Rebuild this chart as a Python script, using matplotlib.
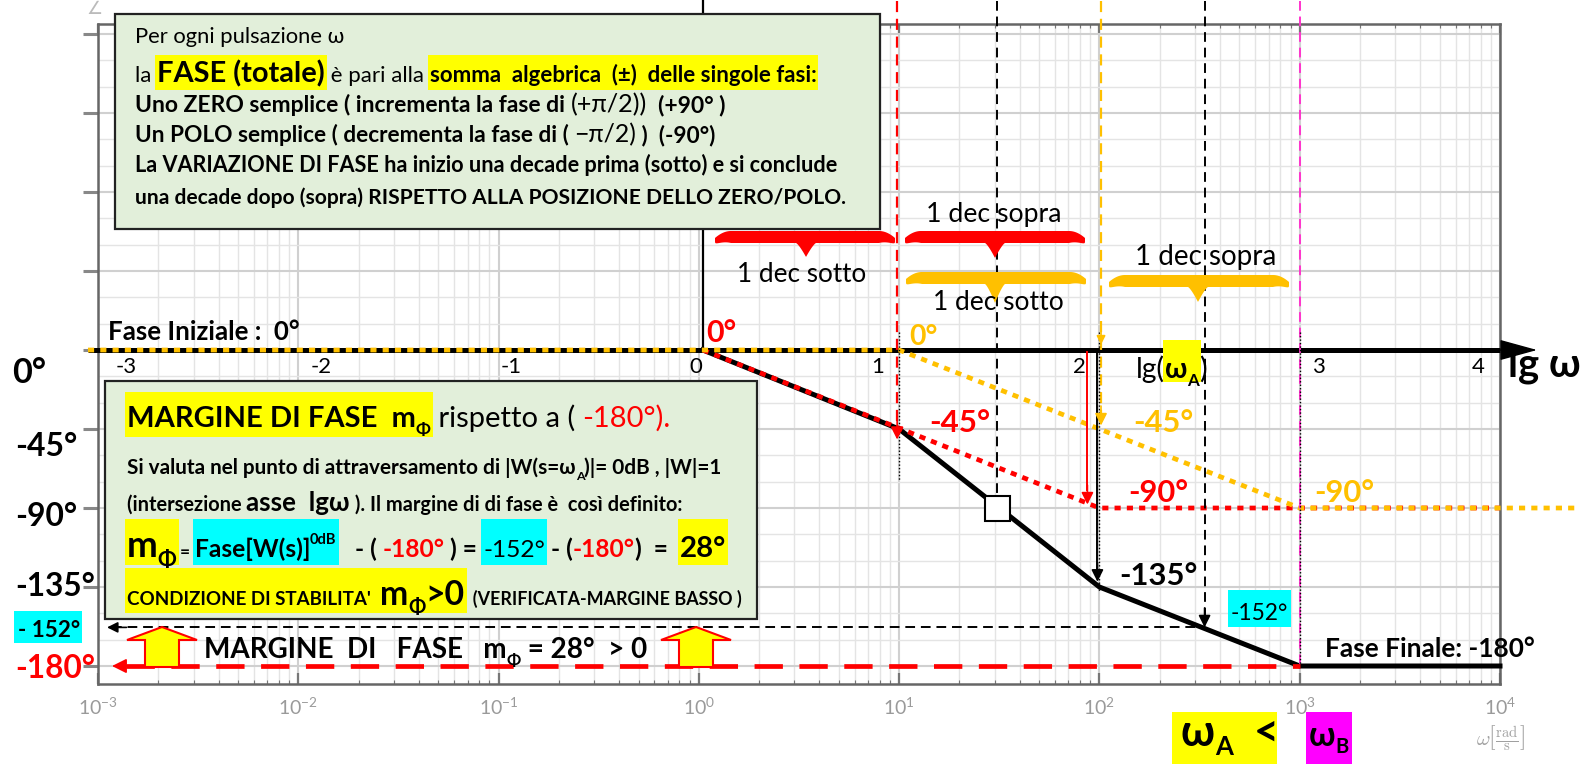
import numpy as np
import matplotlib
matplotlib.use('Agg')
import matplotlib.pyplot as plt
from matplotlib.patches import Rectangle, Polygon

plt.rcParams['font.family'] = ['Lato', 'DejaVu Sans']
plt.rcParams['mathtext.fontset'] = 'cm'

W, H = 1581, 764

# ---- data: lg = log10(omega), phase in degrees ----
decades = [-3, -2, -1, 0, 1, 2, 3, 4]
total_lg = [0.02, 1, 2, 3, 4]          # total phase (black)
total_ph = [0, -45, -135, -180, -180]
pole1_lg = [0.02, 2, 4]                # first pole (red)
pole1_ph = [0, -90, -90]
pole2_lg = [-3.05, 1, 3, 4.4]          # second pole (orange)
pole2_ph = [0, 0, -90, -90]
axis_lg = [-3.05, 4.0]
lg_A, ph_A = 2.525, -158               # 0 dB crossing as drawn
mid_lg, mid_ph = 1.49, -90             # white square
Y_TOP = 199

YEL, CYA, RED, ORA, MAG = '#ffff00', '#00ffff', '#ff0000', '#ffc000', '#ff33cc'
L = lambda v: np.power(10.0, np.asarray(v, dtype=float))

fig = plt.figure(figsize=(W / 100, H / 100), dpi=100)
ax = fig.add_axes([98 / W, 1 - 684 / H, 1402 / W, 660 / H])
ax.set_xscale('log')
ax.set_xlim(1e-3, 1e4)
ax.set_ylim(-190.25, 185.7)
ax.set_yticks(np.arange(-180, 181, 45))
ax.set_yticks(np.arange(-180, 181, 15), minor=True)
ax.set_yticklabels([])
ax.set_xticks(L(decades))
ax.grid(True, which='major', color='#d0d0d0', lw=1.5)
ax.grid(True, which='minor', color='#e4e4e4', lw=1.0)
ax.tick_params(axis='x', which='both', direction='in', top=True, color='#777',
               labelcolor='#9a9a9a', labelsize=14, pad=9)
ax.tick_params(axis='x', which='major', length=8, width=1.6)
ax.tick_params(axis='x', which='minor', length=3, width=0.8)
ax.tick_params(axis='y', which='major', direction='out', length=11, width=2.2, color='#888')
ax.tick_params(axis='y', which='minor', length=0)
for s in ax.spines.values():
    s.set_color('#666')
    s.set_linewidth(1.8)


def head(lg, ph, color, dx=0, dy=14, ms=16):
    ax.annotate('', xy=(L(lg), ph), xytext=(dx, dy), textcoords='offset points',
                arrowprops=dict(arrowstyle='-|>', color=color, lw=1.2, mutation_scale=ms,
                                shrinkA=0, shrinkB=0), annotation_clip=False, zorder=8)


# lg omega axis
ax.plot(L(axis_lg), [0, 0], color='k', lw=3.6, solid_capstyle='butt', clip_on=False, zorder=3)
ax.annotate('', xy=(L(4.185), 0), xytext=(L(4.0), 0),
            arrowprops=dict(arrowstyle='-|>,head_length=0.8,head_width=0.22', color='k', lw=1,
                            mutation_scale=30, shrinkA=0, shrinkB=0),
            annotation_clip=False, zorder=4)

# curves
ax.plot(L(total_lg), total_ph, color='k', lw=3.6, clip_on=False, zorder=4)
ax.plot(L(pole1_lg), pole1_ph, color=RED, lw=3.4, ls=(0, (1.3, 1.3)), clip_on=False, zorder=5)
ax.plot(L(pole2_lg), pole2_ph, color=ORA, lw=3.4, ls=(0, (1.3, 1.3)), clip_on=False, zorder=5)
ax.plot(L(mid_lg), mid_ph, marker='s', ms=18, mfc='white', mec='k', mew=1.5, zorder=7)

# guide lines
dash = (0, (5, 3))
ax.plot(L([0.02, 0.02]), [0, Y_TOP], color='k', lw=1.6, clip_on=False, zorder=3)
ax.plot(L([0.99, 0.99]), [Y_TOP, -45], color=RED, lw=1.6, ls=dash, clip_on=False, zorder=6)
head(0.99, -51, RED, ms=19)
ax.plot(L([1.49, 1.49]), [Y_TOP, -84], color='k', lw=1.4, ls=dash, clip_on=False, zorder=6)
ax.plot(L([2.008, 2.008]), [Y_TOP, -38], color=ORA, lw=1.6, ls=dash, clip_on=False, zorder=6)
head(2.008, 3, ORA, ms=13)
head(2.008, -43, ORA, ms=18)
ax.plot(L([lg_A, lg_A]), [Y_TOP, ph_A + 6], color='k', lw=1.4, ls=dash, clip_on=False, zorder=6)
head(lg_A, ph_A, 'k', ms=18)
ax.plot(L([3.0, 3.0]), [Y_TOP, -180], color=MAG, lw=1.4, ls=dash, clip_on=False, zorder=6)
ax.plot(L([1.94, 1.94]), [-1, -80], color=RED, lw=1.4, zorder=6)
head(1.94, -88, RED, ms=18)
ax.plot(L([1.99, 1.99]), [-1, -125], color='k', lw=1.4, zorder=6)
head(1.99, -132, 'k', ms=18)
for lg, bottom in [(1.0, -74), (2.0, -137), (3.0, -180)]:
    ax.plot(L([lg, lg]), [10, bottom], color='k', lw=1.0, ls=(0, (1, 1.5)), zorder=6)
ax.plot(L([-2.93, lg_A]), [ph_A, ph_A], color='k', lw=1.4, ls=dash, zorder=6)
head(-2.955, ph_A, 'k', dx=14, dy=0)
ax.plot(L([-2.86, 3.0]), [-180, -180], color=RED, lw=3.4, ls=(0, (6, 3.5)), zorder=6)
head(-2.93, -180, RED, dx=14, dy=0, ms=22)

# ---- annotation layer in pixel coordinates ----
ov = fig.add_axes([0, 0, 1, 1], zorder=5)
ov.set_xlim(0, W)
ov.set_ylim(H, 0)
ov.axis('off')
rend = fig.canvas.get_renderer()


def adv(txt, fs, wt):
    a = ov.text(0, 0, '|' + txt + '|', fontsize=fs, fontweight=wt)
    b = ov.text(0, 0, '||', fontsize=fs, fontweight=wt)
    w = a.get_window_extent(rend).width - b.get_window_extent(rend).width
    a.remove()
    b.remove()
    return w


def line(x0, base, segs, size, width=None, hl=None, sub_drop=0.45):
    wts = ['bold' if o.get('b') else 'normal' for _, o in segs]

    def sizes(sc):
        return [size * o.get('k', 1) * sc * (0.6 if (o.get('sub') or o.get('sup')) else 1)
                for _, o in segs]
    sc = 1.0
    if width:
        sc = width / sum(adv(t, f, w) for (t, _), f, w in zip(segs, sizes(1.0), wts))
    x = x0
    runs = []
    for (t, o), f, w in zip(segs, sizes(sc), wts):
        dy = 0
        if o.get('sub'):
            dy = sub_drop * f * 100 / 72
        if o.get('sup'):
            dy = -0.9 * f * 100 / 72
        ov.text(x, base + dy, t, fontsize=f, fontweight=w, color=o.get('c', 'k'),
                va='baseline', ha='left', zorder=7)
        a = adv(t, f, w)
        if o.get('bg'):
            if runs and runs[-1][2] == o['bg'] and abs(runs[-1][1] - x) < 0.5:
                runs[-1][1] = x + a
            else:
                runs.append([x, x + a, o['bg']])
        x += a
    if hl:
        for xa, xb, c in runs:
            ov.add_patch(Rectangle((xa - 2, hl[0]), xb - xa + 4, hl[1] - hl[0],
                                   fc=c, ec='none', zorder=6))
    return x


B = {'b': True}
# top box
ov.add_patch(Rectangle((115, 14), 765, 215, fc='#e2efda', ec='#222', lw=1.6, zorder=5))
line(135, 43, [("Per ogni pulsazione ω", {})], 13, 209)
line(135, 82, [("la ", {}), ("FASE (totale)", {'b': 1, 'k': 1.3, 'bg': YEL}),
               (" è pari alla ", {}),
               ("somma  algebrica  (±)  delle singole fasi:", {'b': 1, 'bg': YEL})],
     13, 681, hl=(55, 90))
line(135, 112, [("Uno ZERO semplice ( incrementa la fase di ", B), ("(+π/2))", {'k': 1.1}),
                ("  (+90° )", B)], 13, 591)
line(135, 142, [("Un POLO semplice ( decrementa la fase di ( ", B), ("−π/2)", {'k': 1.1}),
                (" )  (-90°)", B)], 13, 581)
line(135, 172, [("La VARIAZIONE DI FASE ha inizio una decade prima (sotto) e si conclude", B)], 13, 702)
line(135, 204, [("una decade dopo (sopra) RISPETTO ALLA POSIZIONE DELLO ZERO/POLO.", B)], 13, 707)

# bottom box
ov.add_patch(Rectangle((105, 381), 652, 238, fc='#e2efda', ec='#222', lw=1.6, zorder=5))
line(127, 427, [("MARGINE DI FASE  m", {'b': 1, 'bg': YEL}), ("Φ", {'b': 1, 'sub': 1, 'bg': YEL}),
                (" rispetto a ( ", {}), ("-180°).", {'c': RED})], 20, 543, hl=(392, 437))
line(127, 474, [("Si valuta nel punto di attraversamento di |W(s=ω", B), ("A", {'b': 1, 'sub': 1}),
                (")|= 0dB , |W|=1", B)], 12, 594)
line(127, 511, [("(intersezione ", B), ("asse  lgω", {'b': 1, 'k': 1.3}),
                (" ). Il margine di di fase è  così definito:", B)], 12, 553)
line(127, 557, [("m", {'b': 1, 'k': 1.5, 'bg': YEL}), ("Φ", {'b': 1, 'k': 1.5, 'sub': 1, 'bg': YEL}),
                (" = ", {'b': 1, 'k': 0.7}), ("Fase[W(s)]", {'b': 1, 'bg': CYA}),
                ("0dB", {'b': 1, 'sup': 1, 'bg': CYA}), ("   - ( ", B), ("-180°", {'b': 1, 'c': RED}),
                (" ) = ", B), ("-152°", {'bg': CYA}), (" - (", B), ("-180°", {'b': 1, 'c': RED}),
                (")  =  ", B), ("28°", {'b': 1, 'k': 1.2, 'bg': YEL})], 17, 600, hl=(519, 565))
line(127, 605, [("CONDIZIONE DI STABILITA'  ", {'b': 1, 'bg': YEL}), ("m", {'b': 1, 'k': 1.8, 'bg': YEL}),
                ("Φ", {'b': 1, 'k': 1.8, 'sub': 1, 'bg': YEL}), (">0", {'b': 1, 'k': 1.8, 'bg': YEL}),
                ("  (VERIFICATA-MARGINE BASSO )", {'b': 1, 'k': 0.95})], 12, 615, hl=(568, 613))

# margin arrows + caption
for xc in (162, 696):
    pts = [(xc - 17, 667), (xc - 17, 640), (xc - 35, 640), (xc, 627), (xc + 35, 640),
           (xc + 17, 640), (xc + 17, 667)]
    ov.add_patch(Polygon(pts, closed=True, fc=YEL, ec=RED, lw=1.5, zorder=7))
line(204, 658, [("MARGINE  DI   FASE   m", B), ("Φ", {'b': 1, 'sub': 1}), (" = 28°  > 0", B)], 18, 445)

# left phase labels
line(12, 383, [("0°", B)], 24, 34)
line(15, 456, [("-45°", B)], 24, 62)
line(15, 526, [("-90°", B)], 24, 62)
line(15, 596, [("-135°", B)], 24, 80)
ov.add_patch(Rectangle((14, 611), 68, 32, fc=CYA, ec='none', zorder=6))
line(18, 637, [("- 152°", B)], 18, 62)
line(15, 678, [("-180°", {'b': 1, 'c': RED})], 24, 80)

# labels along the curves
line(108, 340, [("Fase Iniziale :  0°", B)], 18, 192)
line(706, 342, [("0°", {'b': 1, 'c': RED})], 22, 30)
line(909, 345, [("0°", {'b': 1, 'c': ORA})], 22, 28)
line(929, 432, [("-45°", {'b': 1, 'c': RED})], 24, 61)
line(1133, 432, [("-45°", {'b': 1, 'c': ORA})], 24, 60)
line(1128, 502, [("-90°", {'b': 1, 'c': RED})], 24, 60)
line(1314, 502, [("-90°", {'b': 1, 'c': ORA})], 24, 60)
line(1119, 585, [("-135°", B)], 24, 78)
ov.add_patch(Rectangle((1228, 590), 63, 37, fc=CYA, ec='none', zorder=6))
line(1231, 620, [("-152°", {})], 20, 57)
line(1325, 657, [("Fase Finale: -180°", B)], 18, 210)


# braces
def brace(x0, x1, xt, top, tip, color, th=12, r=16, curl=7):
    xs = np.linspace(x0, x1, 400)
    d = np.minimum(xs - x0, x1 - xs)
    u = np.clip(d / r, 0, 1)
    up = top + curl * (1 - u) ** 2
    lo = up + th * (0.35 + 0.65 * np.sqrt(u))
    bump = np.clip(1 - np.abs(xs - xt) / 10, 0, 1) ** 1.3
    lo = lo + (tip - top - th) * bump
    pts = np.vstack([np.column_stack([xs, up]), np.column_stack([xs[::-1], lo[::-1]])])
    ov.add_patch(Polygon(pts, closed=True, fc=color, ec='none', zorder=6))


brace(715, 895, 806, 231, 257, RED)
brace(905, 1085, 995, 231, 258, RED)
brace(906, 1086, 995, 272, 303, ORA)
brace(1109, 1289, 1198, 275, 302, ORA)
line(737, 282, [("1 dec sotto", {})], 18, 129)
line(926, 222, [("1 dec sopra", {})], 18, 135)
line(933, 310, [("1 dec sotto", {})], 18, 130)
line(1135, 265, [("1 dec sopra", {})], 18, 141)

# lg axis numbers
lg_label_x = [126, 321, 511, 696, 878, 1079, 1318, 1478]
for k, cx in zip(decades, lg_label_x):
    ov.text(cx, 373, str(k), ha='center', va='baseline', fontsize=16, zorder=7)
line(1136, 378, [("lg(", {}), ("ω", {'b': 1, 'bg': YEL}), ("A", {'b': 1, 'sub': 1, 'bg': YEL}),
                 (")", {})], 16, 71, hl=(340, 382))
line(1508, 377, [("lg ω", B)], 24, 73)

# omega_A < omega_B
ov.add_patch(Rectangle((1172, 712), 105, 60, fc=YEL, ec='none', zorder=6))
ov.add_patch(Rectangle((1306, 712), 46, 60, fc='#ff00ff', ec='none', zorder=6))
line(1181, 746, [("ω", B), ("A", {'b': 1, 'sub': 1}), ("  <", B)], 24, 98, sub_drop=0.35)
line(1309, 746, [("ω", B), ("B", {'b': 1, 'sub': 1})], 24, 40, sub_drop=0.35)

ov.text(1500, 738, r'$\omega\left[\frac{\mathrm{rad}}{\mathrm{s}}\right]$', color='#a0a0a0',
        fontsize=15, ha='center', va='center')
ov.text(95, 9, '∠', color='#bbb', fontsize=13, ha='center', va='center')

fig.savefig('out.png', dpi=100)
